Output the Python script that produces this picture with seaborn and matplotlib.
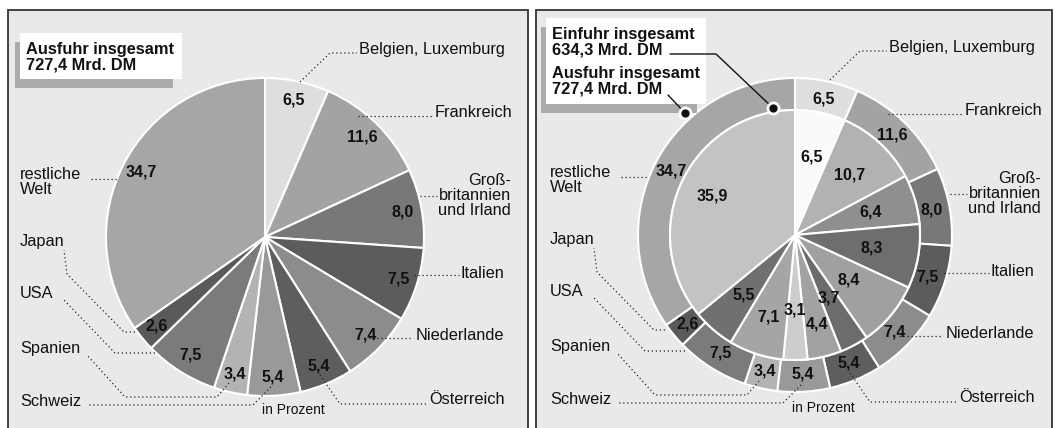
import numpy as np
import matplotlib.pyplot as plt
from matplotlib.patches import Rectangle
import seaborn as sns

sns.set_theme(style="white")
plt.rcParams["font.family"] = ["Liberation Sans", "DejaVu Sans"]

# Daten (in Prozent), Reihenfolge im Uhrzeigersinn ab 12 Uhr
laender = ["Belgien, Luxemburg", "Frankreich", "Groß-\nbritannien\nund Irland", "Italien",
           "Niederlande", "Österreich", "Schweiz", "Spanien", "USA", "Japan", "restliche\nWelt"]
ausfuhr = [6.5, 11.6, 8.0, 7.5, 7.4, 5.4, 5.4, 3.4, 7.5, 2.6, 34.7]
einfuhr = [6.5, 10.7, 6.4, 8.3, 8.4, 3.7, 4.4, 3.1, 7.1, 5.5, 35.9]
ausfuhr_titel = "Ausfuhr insgesamt\n727,4 Mrd. DM"
einfuhr_titel = "Einfuhr insgesamt\n634,3 Mrd. DM"

grau_ausfuhr = ["#dedede", "#a3a3a3", "#787878", "#5c5c5c", "#8c8c8c", "#5e5e5e",
                "#999999", "#b3b3b3", "#7b7b7b", "#5a5a5a", "#a6a6a6"]
grau_einfuhr = ["#fafafa", "#b2b2b2", "#8f8f8f", "#6e6e6e", "#a0a0a0", "#6c6c6c",
                "#a2a2a2", "#cdcdcd", "#a5a5a5", "#707070", "#c3c3c3"]

W, H = 1055, 428
fig = plt.figure(figsize=(W / 100, H / 100), dpi=100)
ax = fig.add_axes([0, 0, 1, 1])


def px(x, y):
    return x, H - y


def fmt(v):
    return f"{v:.1f}".replace(".", ",")


def mitte(werte):
    cum = np.cumsum([0] + list(werte))
    mid = (cum[:-1] + cum[1:]) / 2 / cum[-1] * 360
    return np.radians(90 - mid)


def werte_text(cx, cy, werte, dist):
    for v, a, d in zip(werte, mitte(werte), dist):
        x, y = px(cx, cy)
        ax.text(x + d * np.cos(a), y + d * np.sin(a), fmt(v), ha="center", va="center",
                fontsize=11.5, fontweight="bold", color="#111111", zorder=5)


# Beschriftungen relativ zum Kreismittelpunkt (Pixel, y nach unten)
text_pos = [(94, -188, "left"), (170, -125, "left"), (246, -42, "right"), (196, 36, "left"),
            (151, 98, "left"), (164, 162, "left"), (-245, 165, "left"), (-245, 111, "left"),
            (-245, 57, "left"), (-245, 4, "left"), (-245, -55, "left")]
leader = [
    [(35, -155), (65, -184), (92, -184)],
    [(93, -121), (167, -121)],
    [(155, -41), (172, -41)],
    [(149, 38), (194, 38)],
    [(104, 101), (148, 101)],
    [(55, 138), (75, 167), (162, 167)],
    [(6, 150), (-12, 168), (-176, 168)],
    [(-36, 146), (-48, 160), (-140, 160), (-178, 118)],
    [(-110, 116), (-150, 116), (-202, 62)],
    [(-130, 95), (-141, 95), (-198, 37), (-201, 13)],
    [(-174, -58), (-146, -58)],
]


def beschriftung(cx, cy):
    for name, (tx, ty, ha), pts in zip(laender, text_pos, leader):
        ax.text(*px(cx + tx, cy + ty), name, ha=ha, va="center", fontsize=11.8,
                linespacing=1.0, multialignment=ha, color="#111111", zorder=5)
        xs, ys = zip(*[px(cx + a, cy + b) for a, b in pts])
        ax.plot(xs, ys, ls=(0, (1, 2.2)), color="#222222", lw=0.9, zorder=4)
    ax.text(*px(cx + 28, cy + 173), "in Prozent", ha="center", va="center",
            fontsize=10, color="#111111", zorder=5)


def titel_box(x0, y0, x1, y1):
    ax.add_patch(Rectangle((x0 - 5, H - y1 - 9), x1 - x0 - 4, y1 - y0, color="#ababab", lw=0, zorder=2))
    ax.add_patch(Rectangle((x0, H - y1), x1 - x0, y1 - y0, color="white", lw=0, zorder=3))


# Hintergrund-Felder
for x0, w in [(8, 520), (536, 516)]:
    ax.add_patch(Rectangle((x0, -5), w, H - 10 + 5, facecolor="#e9e9e9",
                           edgecolor="#333333", lw=1.3, zorder=0))

kanten = dict(edgecolor="white", linewidth=1.5)

# linkes Diagramm: Ausfuhr
lx, ly = 265, 237
ax.pie(ausfuhr, colors=grau_ausfuhr, startangle=90, counterclock=False,
       center=px(lx, ly), radius=159, wedgeprops=kanten)
werte_text(lx, ly, ausfuhr, [140] * len(ausfuhr))
beschriftung(lx, ly)
titel_box(20, 33, 182, 79)
ax.text(*px(26, 57), ausfuhr_titel, ha="left", va="center", fontsize=11.8,
        fontweight="bold", linespacing=1.05, color="#111111", zorder=5)

# rechtes Diagramm: Ausfuhr (Ring) und Einfuhr (innen)
rx, ry = 795, 235
ax.pie(ausfuhr, colors=grau_ausfuhr, startangle=90, counterclock=False,
       center=px(rx, ry), radius=157, wedgeprops=dict(width=32, **kanten))
ax.pie(einfuhr, colors=grau_einfuhr, startangle=90, counterclock=False,
       center=px(rx, ry), radius=125, wedgeprops=kanten)
werte_text(rx, ry, ausfuhr, [139] * len(ausfuhr))
werte_text(rx, ry, einfuhr, [80, 81, 79, 78, 70, 72, 92, 75, 86, 79, 92])
beschriftung(rx, ry)
titel_box(546, 18, 706, 104)
ax.text(*px(552, 42), einfuhr_titel, ha="left", va="center", fontsize=11.8,
        fontweight="bold", linespacing=1.05, color="#111111", zorder=5)
ax.text(*px(552, 81), ausfuhr_titel, ha="left", va="center", fontsize=11.8,
        fontweight="bold", linespacing=1.05, color="#111111", zorder=5)

for pts in [[(670, 54), (716, 54), (773, 108)], [(668, 95), (685, 113)]]:
    xs, ys = zip(*[px(a, b) for a, b in pts])
    ax.plot(xs, ys, color="#111111", lw=1, zorder=6)
    ax.plot(xs[-1], ys[-1], "o", ms=8, color="#111111", mec="white", mew=2, zorder=7)

ax.set_xlim(0, W)
ax.set_ylim(0, H)
ax.set_aspect("equal")
ax.axis("off")

fig.savefig("out.png", dpi=100, facecolor="white")
